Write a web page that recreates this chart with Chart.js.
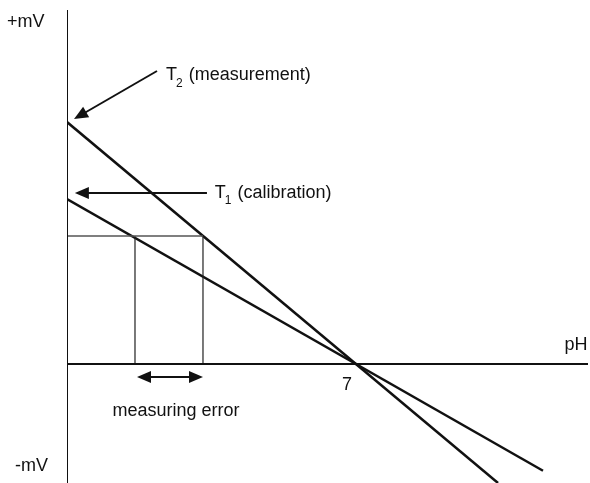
<!DOCTYPE html>
<html>
<head>
<meta charset="utf-8">
<script src="https://cdn.jsdelivr.net/npm/chart.js@4"></script>
<style>
  html, body { margin: 0; padding: 0; background: #fff; }
  #wrap { width: 590px; height: 483px; position: relative; }
</style>
</head>
<body>
<div id="wrap"><canvas id="phChart"></canvas></div>
<script>
// axis ranges (pH across, mV up)
const phRange = [0, 12.62];
const mvRange = [-297.5, 885];

// calibration / measurement lines
const t1Ph = [0, 11.53];
const t1Mv = [412.5, -266.9];
const t2Ph = [0, 10.44];
const t2Mv = [605, -297.5];

// reading box for the measuring error
const readMv = 320;
const readPh = [1.647, 3.294];

// labels
const isoPh = 7;
const errArrowMv = -32.5;

const pts = (xs, ys) => xs.map((x, i) => ({ x: x, y: ys[i] }));

const lineDs = (data, width, color) => ({
    data: data,
    showLine: true,
    borderColor: color,
    borderWidth: width,
    pointRadius: 0,
    fill: false,
    tension: 0
});

function arrowHead(ctx, x0, y0, x1, y1) {
    const a = Math.atan2(y1 - y0, x1 - x0);
    const len = 14, half = 6;
    ctx.beginPath();
    ctx.moveTo(x1, y1);
    ctx.lineTo(x1 - len * Math.cos(a) + half * Math.sin(a), y1 - len * Math.sin(a) - half * Math.cos(a));
    ctx.lineTo(x1 - len * Math.cos(a) - half * Math.sin(a), y1 - len * Math.sin(a) + half * Math.cos(a));
    ctx.closePath();
    ctx.fill();
}

function arrow(ctx, x0, y0, x1, y1) {
    const a = Math.atan2(y1 - y0, x1 - x0);
    ctx.beginPath();
    ctx.moveTo(x0, y0);
    ctx.lineTo(x1 - 8 * Math.cos(a), y1 - 8 * Math.sin(a));
    ctx.stroke();
    arrowHead(ctx, x0, y0, x1, y1);
}

function labelSub(ctx, main, sub, rest, x, y) {
    ctx.font = '18px "Liberation Sans", Arial, sans-serif';
    ctx.fillText(main, x, y);
    let w = ctx.measureText(main).width - 1;
    ctx.font = '12px "Liberation Sans", Arial, sans-serif';
    ctx.fillText(sub, x + w, y + 8);
    w += ctx.measureText(sub).width + 6;
    ctx.font = '18px "Liberation Sans", Arial, sans-serif';
    ctx.fillText(rest, x + w, y);
}

const annotations = {
    id: 'annotations',
    afterDatasetsDraw(chart) {
        const { ctx, scales: { x, y } } = chart;
        ctx.save();
        ctx.fillStyle = '#111';
        ctx.strokeStyle = '#111';
        ctx.lineWidth = 2;
        ctx.textBaseline = 'middle';

        // T2 arrow
        arrow(ctx, x.getPixelForValue(2.18), y.getPixelForValue(732.5),
              x.getPixelForValue(0.17), y.getPixelForValue(612.5));
        labelSub(ctx, 'T', '2', '(measurement)', x.getPixelForValue(2.4), y.getPixelForValue(722));

        // T1 arrow
        arrow(ctx, x.getPixelForValue(3.39), y.getPixelForValue(427.5),
              x.getPixelForValue(0.19), y.getPixelForValue(427.5));
        labelSub(ctx, 'T', '1', '(calibration)', x.getPixelForValue(3.58), y.getPixelForValue(427.5));

        // measuring error double arrow
        const ea = x.getPixelForValue(readPh[0]) + 2;
        const eb = x.getPixelForValue(readPh[1]);
        const ey = y.getPixelForValue(errArrowMv);
        ctx.beginPath();
        ctx.moveTo(ea + 8, ey);
        ctx.lineTo(eb - 8, ey);
        ctx.stroke();
        arrowHead(ctx, eb, ey, ea, ey);
        arrowHead(ctx, ea, ey, eb, ey);

        ctx.font = '18px "Liberation Sans", Arial, sans-serif';
        ctx.textAlign = 'center';
        ctx.fillText('measuring error', (ea + eb) / 2 + 6, y.getPixelForValue(-117));
        ctx.fillText('7', x.getPixelForValue(isoPh) - 9, y.getPixelForValue(-52));

        ctx.textAlign = 'left';
        ctx.fillText('pH', x.getPixelForValue(12.05), y.getPixelForValue(47));
        ctx.fillText('+mV', 7, y.getPixelForValue(855));
        ctx.fillText('-mV', 15, y.getPixelForValue(-255));
        ctx.restore();
    }
};

new Chart(document.getElementById('phChart'), {
    type: 'scatter',
    data: {
        datasets: [
            lineDs(pts([0, 0], mvRange), 2, '#111'),
            lineDs(pts(phRange, [0, 0]), 2, '#111'),
            lineDs(pts([0, readPh[1]], [readMv, readMv]), 1.5, '#555'),
            lineDs(pts([readPh[0], readPh[0]], [readMv, 0]), 1.2, '#222'),
            lineDs(pts([readPh[1], readPh[1]], [readMv, 0]), 1.2, '#222'),
            lineDs(pts(t1Ph, t1Mv), 2.5, '#111'),
            lineDs(pts(t2Ph, t2Mv), 2.5, '#111')
        ]
    },
    options: {
        responsive: true,
        maintainAspectRatio: false,
        animation: false,
        layout: {
            padding: { left: 67, top: 10, right: 2, bottom: 0 }
        },
        scales: {
            x: { type: 'linear', min: phRange[0], max: phRange[1], display: false },
            y: { type: 'linear', min: mvRange[0], max: mvRange[1], display: false }
        },
        plugins: {
            legend: { display: false },
            tooltip: { enabled: false }
        }
    },
    plugins: [annotations]
});
</script>
</body>
</html>
